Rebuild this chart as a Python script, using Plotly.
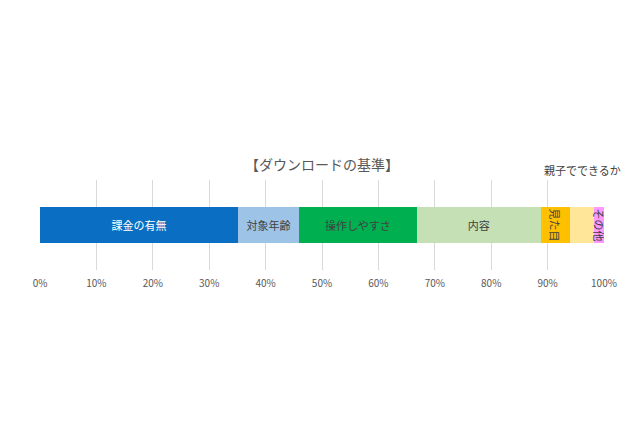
import plotly.graph_objects as go

categories = ["課金の有無", "対象年齢", "操作しやすさ", "内容", "見た目", "親子でできるか", "その他"]
values = [35.1, 10.8, 20.9, 22.0, 5.2, 4.2, 1.8]
colors = ["#0A6FC2", "#9DC3E6", "#00B050", "#C5E0B4", "#FFC000", "#FFE699", "#FF99FF"]
text_colors = ["white", "#404040", "#404040", "#404040", "#404040", "#404040", "#404040"]
inside_labels = [True, True, True, True, True, False, True]

fig = go.Figure()
for c, v, col, tc, ins in zip(categories, values, colors, text_colors, inside_labels):
    fig.add_trace(go.Bar(
        y=[""], x=[v], orientation="h", name=c, marker_color=col,
        marker_line_width=0, width=0.41,
        text=[c] if ins else [""], textposition="inside", insidetextanchor="middle",
        constraintext="none",
        textfont=dict(color=tc, size=11, family="Noto Sans CJK JP"),
        hoverinfo="x+name",
    ))

# label above bar for 親子でできるか
cum = sum(values[:5])
fig.add_annotation(x=cum + values[5] / 2, y=0.5, xref="x", yref="y", yanchor="bottom",
                   text=categories[5], showarrow=False,
                   font=dict(size=11, color="#404040", family="Noto Sans CJK JP"))

fig.add_annotation(x=0.5, y=1, xref="paper", yref="paper", yanchor="bottom", yshift=4,
                   text="【ダウンロードの基準】", showarrow=False,
                   font=dict(size=14, color="#595959", family="Noto Sans CJK JP"))

fig.update_layout(
    barmode="stack", showlegend=False, width=640, height=426,
    margin=dict(l=32, r=44, t=172, b=164),
    paper_bgcolor="white", plot_bgcolor="white",
    xaxis=dict(range=[0, 100], dtick=10, ticksuffix="%", showgrid=True, gridcolor="#D9D9D9",
               zeroline=False, ticks="", tickfont=dict(size=10, color="#595959"), ticklabelstandoff=6),
    yaxis=dict(range=[-0.5, 0.5], showticklabels=False, showgrid=False, zeroline=False),
    font=dict(family="Noto Sans CJK JP"),
)
fig.write_html("out.html")
